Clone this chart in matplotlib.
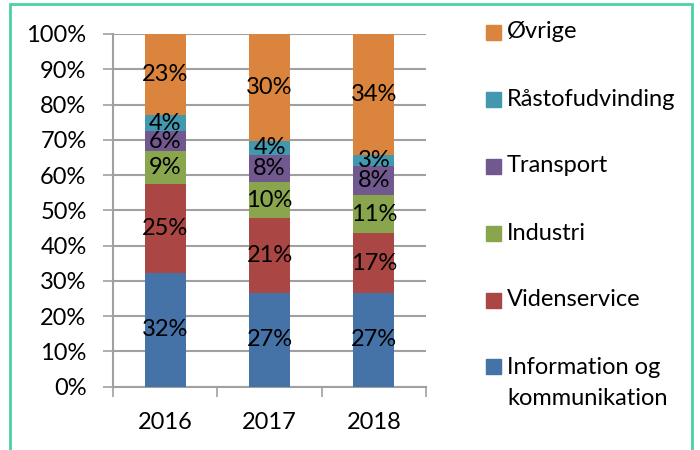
import matplotlib
matplotlib.use("Agg")
import matplotlib.pyplot as plt
from matplotlib.patches import Rectangle
import numpy as np

years = ["2016", "2017", "2018"]
series = ["Information og\nkommunikation", "Videnservice", "Industri",
          "Transport", "Råstofudvinding", "Øvrige"]
info_kom = [32.3, 26.7, 26.6]
videnservice = [25.2, 21.0, 16.9]
industri = [9.3, 10.4, 10.8]
transport = [5.7, 7.7, 8.2]
raastof = [4.4, 3.8, 3.2]
oevrige = [23.1, 30.4, 34.3]
values = [info_kom, videnservice, industri, transport, raastof, oevrige]
colors = ["#4572A7", "#AA4643", "#89A54E", "#71588F", "#4198AF", "#DB843D"]
yticks = [0, 10, 20, 30, 40, 50, 60, 70, 80, 90, 100]

plt.rcParams['font.family'] = ['Lato', 'DejaVu Sans']
FS = 17

fig = plt.figure(figsize=(7, 4.5), dpi=100)
ax = fig.add_axes([113/700, 1-386.7/450, (426-113)/700, (386.7-34)/450])

x = np.arange(len(years))
bottom = np.zeros(len(years))
for vals, col in zip(values, colors):
    v = np.array(vals)
    ax.bar(x, v, width=0.39, bottom=bottom, color=col, zorder=3)
    for xi, b, vi in zip(x, bottom, v):
        ax.text(xi, b + vi/2, f"{round(vi):d}%", ha="center", va="center",
                fontsize=FS, color="black", zorder=4)
    bottom += v

ax.set_xlim(-0.5, 2.5)
ax.set_ylim(0, 100)
ax.set_yticks(yticks)
ax.set_yticklabels([f"{t}%" for t in yticks], fontsize=FS)
ax.yaxis.grid(True, color="#A0A0A0", linewidth=1.5, zorder=0)
ax.set_axisbelow(True)
ax.tick_params(axis="y", length=7, width=1.2, color="#A0A0A0", pad=12)

ax.set_xticks([-0.5, 0.5, 1.5, 2.5])
ax.set_xticklabels([])
ax.set_xticks(x, minor=True)
ax.set_xticklabels(years, minor=True, fontsize=FS)
ax.tick_params(axis="x", which="major", length=7, width=1.2, color="#A0A0A0", direction="out")
ax.tick_params(axis="x", which="minor", length=0, pad=18)

for s in ["top", "right"]:
    ax.spines[s].set_visible(False)
for s in ["left", "bottom"]:
    ax.spines[s].set_color("#A0A0A0")
    ax.spines[s].set_linewidth(1.5)

# legend (manual, reversed order)
leg_top = 1 - 32/450
step = 67/450
for i, (name, col) in enumerate(zip(series[::-1], colors[::-1])):
    yc = leg_top - i*step
    fig.patches.append(Rectangle((486/700, yc - 7.5/450), 15/700, 15/450,
                                 transform=fig.transFigure, color=col))
    lines = name.split("\n")
    for j, ln in enumerate(lines):
        fig.text(507/700, yc - j*32/450, ln, fontsize=FS, va="center", ha="left")

# frame
fig.patches.append(Rectangle((10/700, -0.05), (692-10)/700, 1.05 - 4/450,
                             transform=fig.transFigure, fill=False,
                             edgecolor="#4DD0A8", linewidth=2))

fig.savefig("out.png", dpi=100)
